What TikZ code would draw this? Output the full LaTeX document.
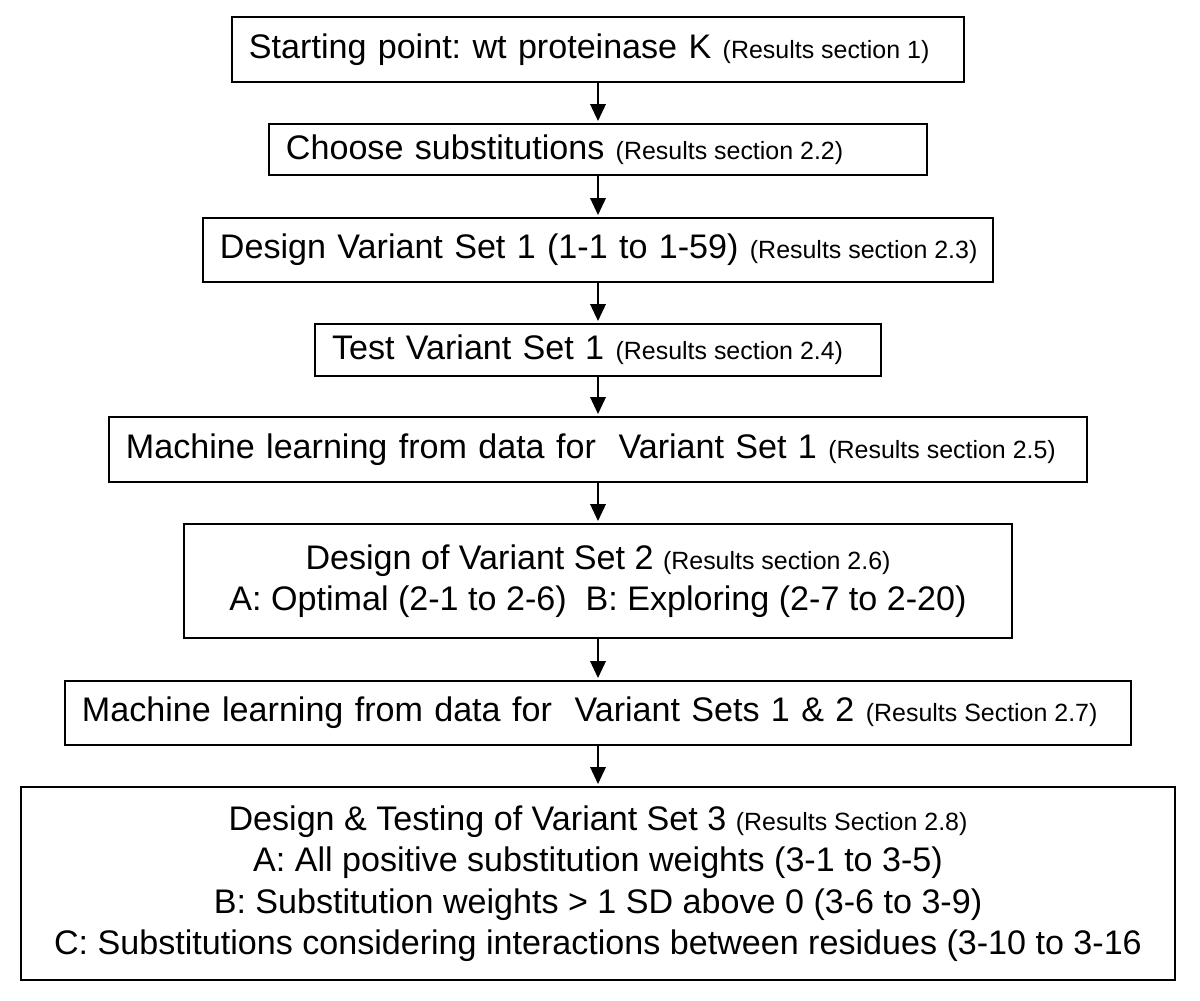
\documentclass[tikz,border=0pt]{standalone}
\usepackage{fontspec}
\setmainfont{Liberation Sans}
\usepackage{tikz}
\usetikzlibrary{arrows.meta}

\newcommand{\stagefont}{\fontsize{19.4}{23.6}\selectfont\frenchspacing
  \spaceskip=0pt\relax\xspaceskip=0pt\relax}
\newcommand{\ressec}[1]{{\fontsize{14.2}{17}\selectfont
  \spaceskip=0pt\relax\xspaceskip=0pt\relax #1}}

\tikzset{
  stagebox/.style={draw, line width=1.1pt, inner xsep=3.4mm, inner ysep=0pt,
    font=\stagefont,
    execute at begin node=\hbox\bgroup, execute at end node=\egroup},
  stackbox/.style={draw, line width=1.1pt, inner sep=0pt,
    font=\stagefont, align=center},
  flow/.style={line width=1.1pt, -{Triangle[length=3.4mm, width=3.1mm]},
    shorten >=0.4mm}
}

\begin{document}
\begin{tikzpicture}[x=0.2mm, y=-0.2mm]
  \useasboundingbox (0,0) rectangle (1200,1000);

  % Stage 1: wild type
  \node[stagebox, text width=139.6mm, minimum height=13mm] (start) at (598,49.5)
    {Starting point: wt proteinase K \ressec{(Results section 1)}};

  % Stage 2: substitutions
  \node[stagebox, text width=124.8mm, minimum height=10.2mm] (choose) at (598,149.5)
    {Choose substitutions \ressec{(Results section 2.2)}};

  % Stage 3: first variant set
  \node[stagebox, text width=151.2mm, minimum height=12.8mm] (design1) at (598,250)
    {Design Variant Set 1 (1-1 to 1-59) \ressec{(Results section 2.3)}};

  \node[stagebox, text width=106.4mm, minimum height=10.4mm] (test1) at (598,350)
    {Test Variant Set 1 \ressec{(Results section 2.4)}};

  % Stage 4: learning, round 1
  \node[stagebox, text width=188.8mm, minimum height=13mm] (learn1) at (598,449.5)
    {Machine learning from data for~ Variant Set 1 \ressec{(Results section 2.5)}};

  % Stage 5: second variant set
  \node[stackbox, minimum width=165.6mm, minimum height=22.8mm] (design2) at (598,581)
    {Design of Variant Set 2 \ressec{(Results section 2.6)}\\
     A: Optimal (2-1 to 2-6)~ B: Exploring (2-7 to 2-20)};

  % Stage 6: learning, round 2
  \node[stagebox, text width=206.4mm, minimum height=12.8mm] (learn2) at (598,713)
    {Machine learning from data for~ Variant Sets 1 \& 2 \ressec{(Results Section 2.7)}};

  % Stage 7: third variant set
  \node[stackbox, minimum width=230.8mm, minimum height=38.6mm] (design3) at (598,883.5)
    {Design \& Testing of Variant Set 3 \ressec{(Results Section 2.8)}\\
     A: All positive substitution weights (3-1 to 3-5)\\
     B: Substitution weights > 1 SD above 0 (3-6 to 3-9)\\
     C: Substitutions considering interactions between residues (3-10 to 3-16};

  % arrows between stages
  \foreach \from/\to in {start/choose, choose/design1, design1/test1, test1/learn1,
      learn1/design2, design2/learn2, learn2/design3}
    \draw[flow] (\from) -- (\to);
\end{tikzpicture}
\end{document}
